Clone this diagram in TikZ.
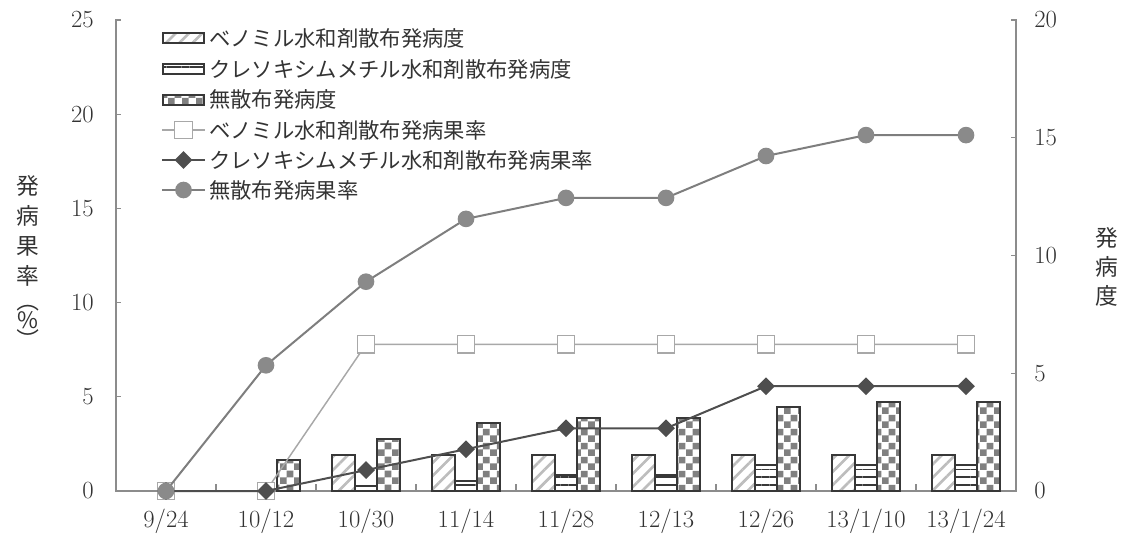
\documentclass[tikz,border=0pt]{standalone}
\usepackage{fontspec}
\newfontfamily\jp{Noto Sans CJK JP}
\usetikzlibrary{patterns,patterns.meta,shapes.geometric}
\pgfdeclarepatternformonly{mycheck}{\pgfpointorigin}{\pgfqpoint{10.5pt}{10.5pt}}{\pgfqpoint{10.5pt}{10.5pt}}{%
\pgfpathrectangle{\pgfpointorigin}{\pgfqpoint{5.25pt}{5.25pt}}%
\pgfpathrectangle{\pgfqpoint{5.25pt}{5.25pt}}{\pgfqpoint{5.25pt}{5.25pt}}%
\pgfusepath{fill}}
\definecolor{axisgray}{HTML}{8C8C8C}
\definecolor{bargray}{HTML}{383838}
\definecolor{hatchgray}{HTML}{BDBDBD}
\definecolor{checkgray}{HTML}{808080}
\definecolor{benline}{HTML}{A8A8A8}
\definecolor{kreline}{HTML}{4E4E4E}
\definecolor{untline}{HTML}{7E7E7E}
\definecolor{untfill}{HTML}{8A8A8A}
\definecolor{txt}{HTML}{333333}
\tikzset{
  axisline/.style={draw=axisgray, line width=1pt},
  barbase/.style={draw=bargray, line width=1.5pt},
  benbar/.style={barbase, pattern={Lines[angle=45,distance=7pt,line width=2pt]}, pattern color=hatchgray},
  krebar/.style={barbase, pattern={Lines[angle=0,distance=5.8pt,line width=1.2pt]}, pattern color=bargray},
  untbar/.style={barbase, pattern=mycheck, pattern color=checkgray},
  benl/.style={draw=benline, line width=1.1pt},
  krel/.style={draw=kreline, line width=1.5pt},
  untl/.style={draw=untline, line width=1.5pt},
  bmark/.style={rectangle, draw=benline, fill=white, line width=0.9pt, minimum size=13pt, inner sep=0pt},
  kmark/.style={diamond, fill=kreline, minimum size=13.5pt, inner sep=0pt},
  umark/.style={circle, fill=untfill, minimum size=12.5pt, inner sep=0pt},
  num/.style={font=\fontsize{18.5pt}{20pt}\selectfont, text=txt, inner sep=0pt},
  leg/.style={anchor=west, font=\jp\fontsize{16pt}{18pt}\selectfont, text=txt, inner sep=0pt},
  vtit/.style={font=\jp\fontsize{17pt}{18pt}\selectfont, text=txt, inner sep=0pt},
}
\begin{document}
\begin{tikzpicture}[x=0.75pt,y=-0.75pt]
\useasboundingbox (0,0) rectangle (1127,539);
% axes
\draw[axisline] (116,19) -- (116,491) -- (1016,491) -- (1016,19);
\foreach \k/\t in {0/0,1/5,2/10,3/15,4/20,5/25}{
  \draw[axisline] (116,{491-94.2*\k}) -- (121,{491-94.2*\k});
  \node[num, anchor=east] (yl\k) at (94,{491-94.2*\k}) {\t};
}
\foreach \k/\t in {0/0,1/5,2/10,3/15,4/20}{
  \draw[axisline] (1011,{491-117.75*\k}) -- (1016,{491-117.75*\k});
  \node[num, anchor=west] (yr\k) at (1034,{491-117.75*\k}) {\t};
}
\foreach \k in {1,...,8}{
  \draw[axisline] ({116+100*\k},491) -- ({116+100*\k},484);
}
\foreach \i/\t in {0/9\slash 24,1/10\slash 12,2/10\slash 30,3/11\slash 14,4/11\slash 28,5/12\slash 13,6/12\slash 26,7/13\slash 1\slash 10,8/13\slash 1\slash 24}{
  \node[num] (xl\i) at ({166+100*\i},521) {\t};
}
% axis titles
\foreach \c/\yy [count=\n] in {発/186,病/216,果/246,率/276}{
  \node[vtit] (lt\n) at (28,\yy) {\c};
}
\node[vtit, rotate=-90] (lt5) at (28,301) {（};
\node[vtit] (lt6) at (28,320) {\%};
\node[vtit, rotate=-90] (lt7) at (28,340) {）};
\foreach \c/\yy [count=\n] in {発/238,病/267,度/296}{
  \node[vtit] (rt\n) at (1107,\yy) {\c};
}
% bars
\foreach \i in {2,...,8}{
  \draw[benbar] ({166+100*\i-34},491) rectangle ({166+100*\i-11.3},454.5);
}
\foreach \i/\h in {2/5,3/10.5,4/16.5,5/16.5,6/26,7/26,8/26}{
  \draw[krebar] ({166+100*\i-11.3},491) rectangle ({166+100*\i+11.3},{491-\h});
}
\foreach \i/\h in {1/31,2/52,3/68,4/73.5,5/73.5,6/84,7/89.5,8/89.5}{
  \draw[untbar] ({166+100*\i+11.3},491) rectangle ({166+100*\i+34},{491-\h});
}
% line series
\foreach \i/\y in {0/491,1/491,2/344.4,3/344.4,4/344.4,5/344.4,6/344.4,7/344.4,8/344.4}{
  \coordinate (b\i) at ({166+100*\i},\y);
}
\foreach \i/\y in {0/491,1/491,2/470.1,3/449.2,4/428.3,5/428.3,6/386.2,7/386.2,8/386.2}{
  \coordinate (k\i) at ({166+100*\i},\y);
}
\foreach \i/\y in {0/491,1/365.3,2/281.7,3/218.9,4/197.9,5/197.9,6/156.0,7/135.1,8/135.1}{
  \coordinate (u\i) at ({166+100*\i},\y);
}
\draw[benl] (b0) -- (b1) -- (b2) -- (b3) -- (b4) -- (b5) -- (b6) -- (b7) -- (b8);
\foreach \i in {0,...,8}{ \node[bmark] (bm\i) at (b\i) {}; }
\draw[krel] (k0) -- (k1) -- (k2) -- (k3) -- (k4) -- (k5) -- (k6) -- (k7) -- (k8);
\foreach \i in {0,...,8}{ \node[kmark] (km\i) at (k\i) {}; }
\draw[untl] (u0) -- (u1) -- (u2) -- (u3) -- (u4) -- (u5) -- (u6) -- (u7) -- (u8);
\foreach \i in {0,...,8}{ \node[umark] (um\i) at (u\i) {}; }
% legend
\draw[benbar] (163,33) rectangle (204,43);
\node[leg] (lg1) at (209,38) {ベノミル水和剤散布発病度};
\draw[krebar] (163,64) rectangle (204,74);
\node[leg] (lg2) at (209,69) {クレソキシムメチル水和剤散布発病度};
\draw[untbar] (163,94.5) rectangle (204,104.5);
\node[leg] (lg3) at (209,99.5) {無散布発病度};
\coordinate (la4) at (162,130); \coordinate (lb4) at (205,130);
\draw[benl] (la4) -- (lb4);
\node[bmark] (lm4) at (183.5,130) {};
\node[leg] (lg4) at (209,130) {ベノミル水和剤散布発病果率};
\coordinate (la5) at (162,160); \coordinate (lb5) at (205,160);
\draw[krel] (la5) -- (lb5);
\node[kmark] (lm5) at (183.5,160) {};
\node[leg] (lg5) at (209,160) {クレソキシムメチル水和剤散布発病果率};
\coordinate (la6) at (162,190); \coordinate (lb6) at (205,190);
\draw[untl] (la6) -- (lb6);
\node[umark] (lm6) at (183.5,190) {};
\node[leg] (lg6) at (209,190) {無散布発病果率};
\end{tikzpicture}
\end{document}
